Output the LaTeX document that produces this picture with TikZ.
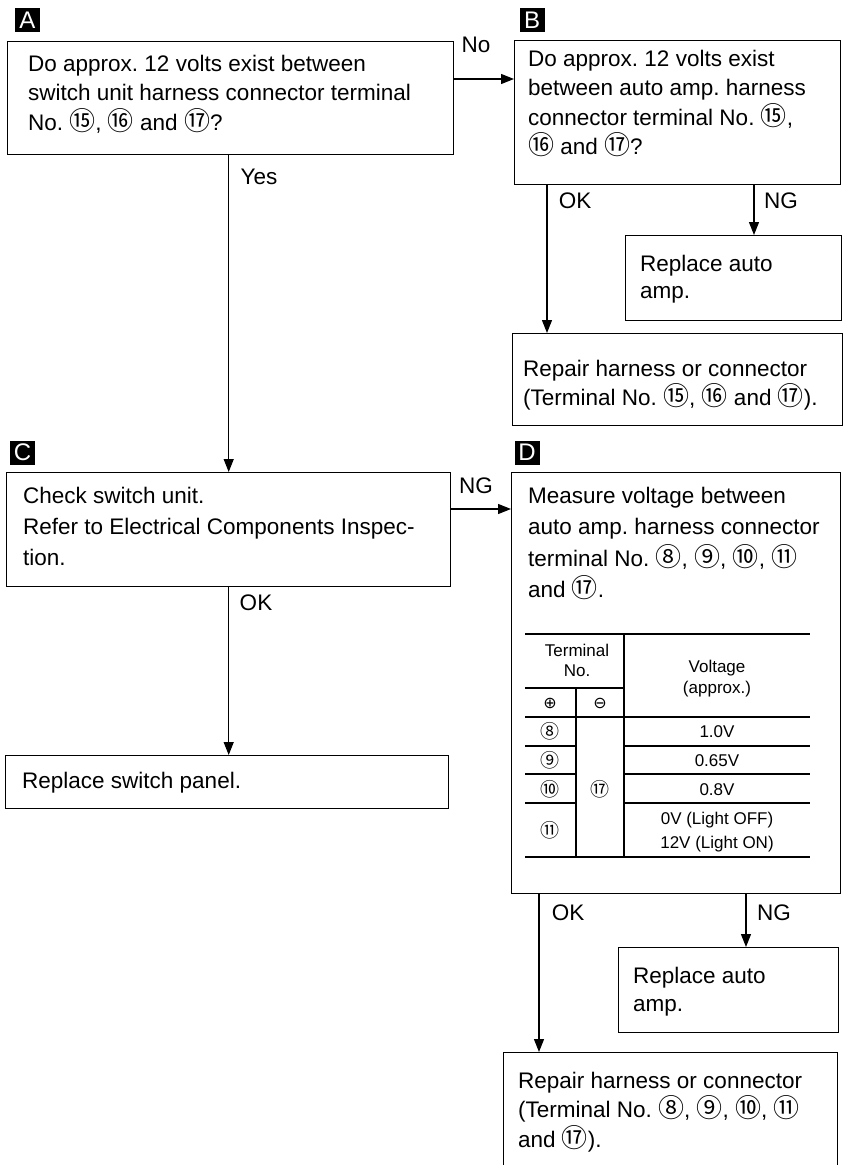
\documentclass[tikz,border=0pt]{standalone}
\usepackage{fontspec}
\setmainfont{Liberation Sans}
\newfontfamily\cjk{Noto Sans CJK SC}
\newfontfamily\djv{DejaVu Sans}
\usetikzlibrary{arrows.meta}
\frenchspacing
\newcommand\cn[1]{{\cjk\fontsize{26}{26}\selectfont #1}}
\newcommand\cns[1]{{\cjk\fontsize{19}{19}\selectfont #1}}
\newcommand\tst{\rule{0pt}{23pt}}
\begin{document}
\begin{tikzpicture}[x=1pt,y=-1pt,
  box/.style={draw,line width=1.4pt,rectangle,inner sep=0pt,anchor=north west},
  txt/.style={anchor=north west,inner sep=0pt,align=left,font=\fontsize{22.5}{29.5}\selectfont\frenchspacing},
  lab/.style={inner sep=0pt,font=\fontsize{22.5}{25}\selectfont},
  tab/.style={inner sep=0pt,anchor=base,font=\fontsize{17}{20}\selectfont},
  arr/.style={line width=1.2pt,-{Triangle[length=13pt,width=10pt]}},
  tag/.style={fill=black,text=white,minimum width=25pt,minimum height=24pt,inner sep=0pt,font=\fontsize{24}{24}\selectfont},
  thick rule/.style={line width=2.8pt},
  thin rule/.style={line width=1.1pt}]
\fill[white] (0,0) rectangle (845,1165);
\useasboundingbox (0,0) rectangle (845,1165);
\clip (0,0) rectangle (845,1165);

% tags
\node[tag] (tA) at (27.5,20) {A};
\node[tag] (tB) at (532,20) {B};
\node[tag] (tC) at (22.5,452.5) {C};
\node[tag] (tD) at (527,452.5) {D};

% boxes
\node[box,minimum width=446pt,minimum height=113pt] (A) at (7,41) {};
\node[box,minimum width=326pt,minimum height=144pt] (B) at (514,40) {};
\node[box,minimum width=216pt,minimum height=85pt] (RAB) at (625,235) {};
\node[box,minimum width=330pt,minimum height=92pt] (RHB) at (512,333) {};
\node[box,minimum width=444pt,minimum height=114pt] (C) at (6,472) {};
\node[box,minimum width=329pt,minimum height=421pt] (D) at (511,472) {};
\node[box,minimum width=443pt,minimum height=53pt] (RSP) at (5,755) {};
\node[box,minimum width=220pt,minimum height=85pt] (RAD) at (618,947) {};
\node[box,minimum width=334pt,minimum height=125pt] (RHD) at (503,1052) {};

% box texts
\node[txt] (At) at (28,48) {\tst Do approx. 12 volts exist between\\switch unit harness connector terminal\\No. \cn{⑮}, \cn{⑯} and \cn{⑰}?};
\node[txt] (Bt) at (528,43) {\tst Do approx. 12 volts exist\\between auto amp. harness\\connector terminal No. \cn{⑮},\\\cn{⑯} and \cn{⑰}?};
\node[txt,font=\fontsize{22.5}{27.5}\selectfont] (RABt) at (640,248) {\tst Replace auto\\amp.};
\node[txt] (RHBt) at (523,353) {\tst Repair harness or connector\\(Terminal No. \cn{⑮}, \cn{⑯} and \cn{⑰}).};
\node[txt,font=\fontsize{22.5}{31}\selectfont] (Ct) at (23,480) {\tst Check switch unit.\\Refer to Electrical Components Inspec-\\tion.};
\node[txt] (RSPt) at (22,765) {\tst Replace switch panel.};
\node[txt,font=\fontsize{22.5}{31.5}\selectfont] (Dt) at (528,480) {\tst Measure voltage between\\auto amp. harness connector\\terminal No. \cn{⑧}, \cn{⑨}, \cn{⑩}, \cn{⑪}\\and \cn{⑰}.};
\node[txt,font=\fontsize{22.5}{28}\selectfont] (RADt) at (633,960) {\tst Replace auto\\amp.};
\node[txt] (RHDt) at (518,1065) {\tst Repair harness or connector\\(Terminal No. \cn{⑧}, \cn{⑨}, \cn{⑩}, \cn{⑪}\\and \cn{⑰}).};

% connectors
\coordinate (n1) at ([yshift=-38pt]A.north east);
\draw[arr] (n1) -- (n1 -| B.west);
\draw[arr] (C.north |- A.south) -- (C.north);
\coordinate (b1) at ([xshift=33pt]B.south west);
\draw[arr] (b1) -- (b1 |- RHB.north);
\coordinate (b2) at ([xshift=240pt]B.south west);
\draw[arr] (b2) -- (b2 |- RAB.north);
\coordinate (c1) at ([yshift=-37pt]C.north east);
\draw[arr] (c1) -- (c1 -| D.west);
\draw[arr] (C.south) -- (C.south |- RSP.north);
\coordinate (d1) at ([xshift=28pt]D.south west);
\draw[arr] (d1) -- (d1 |- RHD.north);
\coordinate (d2) at ([xshift=235pt]D.south west);
\draw[arr] (d2) -- (d2 |- RAD.north);

% connector labels
\node[lab] (lNo) at (476,45) {No};
\node[lab] (lYes) at (259,177) {Yes};
\node[lab] (lBok) at (575,201) {OK};
\node[lab] (lBng) at (781,201) {NG};
\node[lab] (lCng) at (476,486) {NG};
\node[lab] (lCok) at (256,603) {OK};
\node[lab] (lDok) at (568,913) {OK};
\node[lab] (lDng) at (774,913) {NG};

% table
\draw[thick rule] (525,634) -- (810,634);
\draw[thick rule] (525,857) -- (810,857);
\draw[thin rule] (624,634) -- (624,857);
\draw[thin rule] (576,688) -- (576,857);
\draw[thin rule] (525,688) -- (624,688);
\draw[thin rule] (525,717) -- (810,717);
\foreach \yy in {746,774,803}{
  \draw[thin rule] (525,\yy) -- (576,\yy);
  \draw[thin rule] (624,\yy) -- (810,\yy);
}
\node[tab] (hT) at (577,656) {Terminal};
\node[tab] (hN) at (577,676) {No.};
\node[tab] (hV) at (717,672) {Voltage};
\node[tab] (hA) at (717,693) {(approx.)};
\node[inner sep=0pt,font=\djv\fontsize{16}{16}\selectfont] (hP) at (550,703) {⊕};
\node[inner sep=0pt,font=\djv\fontsize{16}{16}\selectfont] (hM) at (600,703) {⊖};
\node[inner sep=0pt] (r8) at (550,731) {\cns{⑧}};
\node[inner sep=0pt] (r9) at (550,760) {\cns{⑨}};
\node[inner sep=0pt] (r10) at (550,789) {\cns{⑩}};
\node[inner sep=0pt] (r11) at (550,830) {\cns{⑪}};
\node[inner sep=0pt] (r17) at (600,789) {\cns{⑰}};
\node[tab] (v8) at (717,737) {1.0V};
\node[tab] (v9) at (717,766) {0.65V};
\node[tab] (v10) at (717,795) {0.8V};
\node[tab] (v11a) at (717,824) {0V (Light OFF)};
\node[tab] (v11b) at (717,848) {12V (Light ON)};
\end{tikzpicture}
\end{document}
